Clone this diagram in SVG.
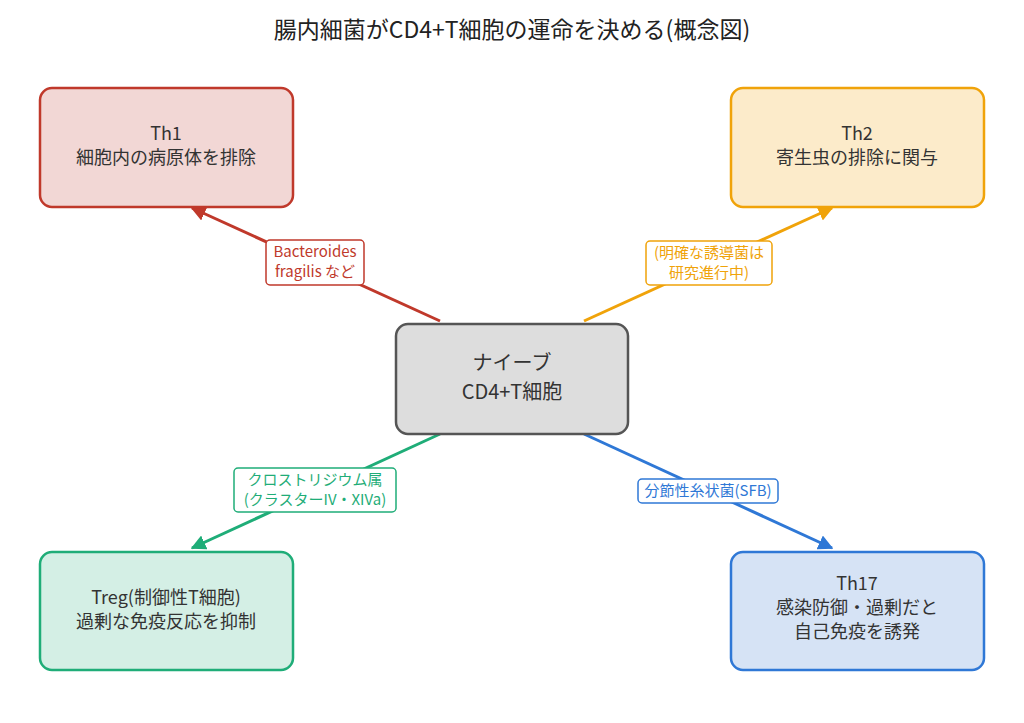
<svg xmlns="http://www.w3.org/2000/svg" width="1024" height="723" viewBox="0 0 1024 723">
<style>
text{font-family:"Noto Sans CJK JP","Noto Sans",sans-serif;text-anchor:middle;}
.title{font-size:23px;fill:#222;}
.nt{font-size:18px;fill:#333;}
.ct{font-size:20px;fill:#333;}
.lt{font-size:15px;}
.node{stroke-width:2.5;}
.conn{stroke-width:3;fill:none;}
.lab{fill:#fff;stroke-width:1.5;}
</style>
<defs>
<marker id="ar" viewBox="0 0 10 10" refX="9" refY="5" markerWidth="5" markerHeight="5" orient="auto" markerUnits="strokeWidth"><path d="M0,0 L10,5 L0,10 z" fill="#c0392b"/></marker>
<marker id="ao" viewBox="0 0 10 10" refX="9" refY="5" markerWidth="5" markerHeight="5" orient="auto" markerUnits="strokeWidth"><path d="M0,0 L10,5 L0,10 z" fill="#f0a30a"/></marker>
<marker id="ag" viewBox="0 0 10 10" refX="9" refY="5" markerWidth="5" markerHeight="5" orient="auto" markerUnits="strokeWidth"><path d="M0,0 L10,5 L0,10 z" fill="#1fad78"/></marker>
<marker id="ab" viewBox="0 0 10 10" refX="9" refY="5" markerWidth="5" markerHeight="5" orient="auto" markerUnits="strokeWidth"><path d="M0,0 L10,5 L0,10 z" fill="#2f78d6"/></marker>
</defs>
<rect width="1024" height="723" fill="#fff"/>
<text class="title" x="512" y="38">腸内細菌がCD4+T細胞の運命を決める(概念図)</text>
<g id="connectors">
<g id="c-th1"><line class="conn" x1="440" y1="321" x2="192" y2="208" stroke="#c0392b" marker-end="url(#ar)"/><rect class="lab" x="266" y="240" width="98" height="45" rx="4" stroke="#c0392b"/><text class="lt" x="315" y="257" fill="#c0392b">Bacteroides</text><text class="lt" x="315" y="277" fill="#c0392b">fragilis など</text></g>
<g id="c-th2"><line class="conn" x1="584" y1="321" x2="832" y2="208" stroke="#f0a30a" marker-end="url(#ao)"/><rect class="lab" x="646" y="241" width="126" height="44" rx="4" stroke="#f0a30a"/><text class="lt" x="709" y="258" fill="#f0a30a">(明確な誘導菌は</text><text class="lt" x="709" y="278" fill="#f0a30a">研究進行中)</text></g>
<g id="c-treg"><line class="conn" x1="440" y1="434" x2="192" y2="548" stroke="#1fad78" marker-end="url(#ag)"/><rect class="lab" x="234" y="468" width="162" height="44" rx="4" stroke="#1fad78"/><text class="lt" x="315" y="485" fill="#1fad78">クロストリジウム属</text><text class="lt" x="315" y="505" fill="#1fad78">(クラスターIV・XIVa)</text></g>
<g id="c-th17"><line class="conn" x1="584" y1="434" x2="832" y2="548" stroke="#2f78d6" marker-end="url(#ab)"/><rect class="lab" x="638" y="479" width="140" height="24" rx="4" stroke="#2f78d6"/><text class="lt" x="708" y="496" fill="#2f78d6">分節性糸状菌(SFB)</text></g>
</g>
<g id="th1"><rect class="node" x="40" y="88" width="253" height="119" rx="12" fill="#f2d7d5" stroke="#c0392b"/><text class="nt" x="166" y="140">Th1</text><text class="nt" x="166" y="164">細胞内の病原体を排除</text></g>
<g id="th2"><rect class="node" x="731" y="88" width="253" height="119" rx="12" fill="#fcebca" stroke="#f0a30a"/><text class="nt" x="857" y="140">Th2</text><text class="nt" x="857" y="164">寄生虫の排除に関与</text></g>
<g id="naive"><rect class="node" x="396" y="324" width="232" height="110" rx="12" fill="#dddddd" stroke="#555555"/><text class="ct" x="512" y="370">ナイーブ</text><text class="ct" x="512" y="399">CD4+T細胞</text></g>
<g id="treg"><rect class="node" x="40" y="552" width="253" height="118" rx="12" fill="#d4efe5" stroke="#1fad78"/><text class="nt" x="166" y="604">Treg(制御性T細胞)</text><text class="nt" x="166" y="628">過剰な免疫反応を抑制</text></g>
<g id="th17"><rect class="node" x="731" y="552" width="253" height="118" rx="12" fill="#d6e3f5" stroke="#2f78d6"/><text class="nt" x="857" y="590">Th17</text><text class="nt" x="857" y="614">感染防御・過剰だと</text><text class="nt" x="857" y="638">自己免疫を誘発</text></g>
</svg>
